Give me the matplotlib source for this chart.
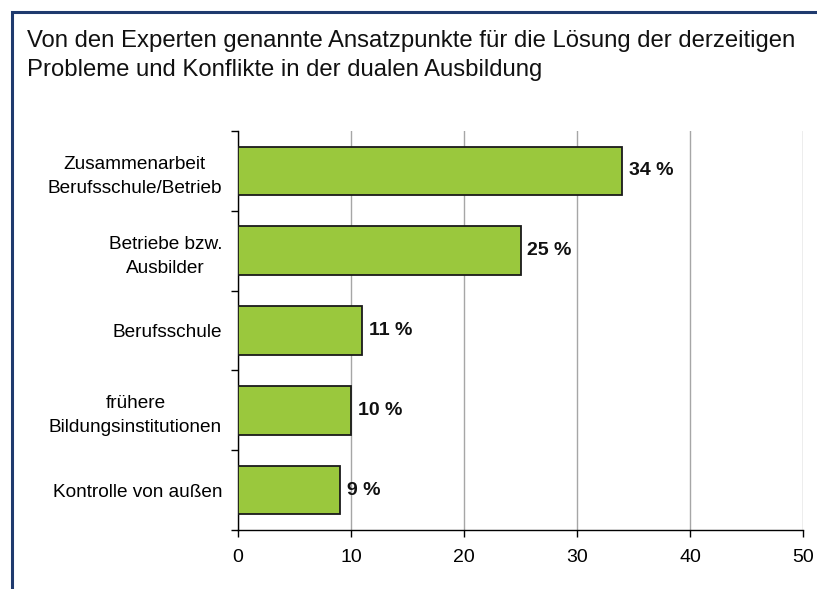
import matplotlib
matplotlib.use("Agg")
import matplotlib.pyplot as plt
from matplotlib.patches import Rectangle

plt.rcParams["font.family"] = ["Liberation Sans", "DejaVu Sans"]

TITLE = ("Von den Experten genannte Ansatzpunkte für die Lösung der derzeitigen\n"
         "Probleme und Konflikte in der dualen Ausbildung")

categories = [
    "Zusammenarbeit\nBerufsschule/Betrieb",
    "Betriebe bzw.\nAusbilder",
    "Berufsschule",
    "frühere\nBildungsinstitutionen",
    "Kontrolle von außen",
]
values = [34, 25, 11, 10, 9]
x_ticks = [0, 10, 20, 30, 40, 50]

BAR_COLOR = "#9AC83D"
FRAME_COLOR = "#1F3A6E"

fig = plt.figure(figsize=(8.17, 5.89), dpi=100)

# dark blue frame (left + top, runs off the image on right/bottom)
fig.add_artist(Rectangle((12 / 817, -0.05), 1.2, 1 - 12 / 589 + 0.05,
                         transform=fig.transFigure, fill=False,
                         edgecolor=FRAME_COLOR, linewidth=2.2))

fig.text(27 / 817, 1 - 30 / 589, TITLE, ha="left", va="top",
         fontsize=17.2, linespacing=1.42, color="#111111")

ax = fig.add_axes([238 / 817, 1 - 530 / 589, (803 - 238) / 817, (530 - 131) / 589])

n = len(categories)
pos = list(range(n))
ax.barh(pos, values, height=0.61, color=BAR_COLOR, edgecolor="#1a1a1a",
        linewidth=1.3, zorder=3)

for p, v in zip(pos, values):
    ax.annotate(f"{v} %", (v, p), xytext=(5, 0), textcoords="offset points",
                ha="left", va="center", fontsize=14, fontweight="bold",
                color="#111111")

ax.set_ylim(n - 0.5, -0.5)
ax.set_xlim(0, 50)
ax.set_xticks(x_ticks)
ax.set_yticks(pos)
ax.set_yticklabels(categories, ha="right", multialignment="center",
                   fontsize=13.7, linespacing=1.55)
ax.set_yticks([i - 0.5 for i in range(n + 1)], minor=True)
ax.tick_params(axis="y", which="major", length=0, pad=11.5)
ax.tick_params(axis="y", which="minor", length=5, width=1, direction="out")
ax.tick_params(axis="x", length=5, width=1, labelsize=14, pad=9)

ax.grid(axis="x", color="#A6A6A6", linewidth=1, zorder=0)
for side in ["top", "right"]:
    ax.spines[side].set_visible(False)
ax.spines["left"].set_linewidth(1)
ax.spines["bottom"].set_linewidth(1)

fig.savefig("out.png", dpi=100)
